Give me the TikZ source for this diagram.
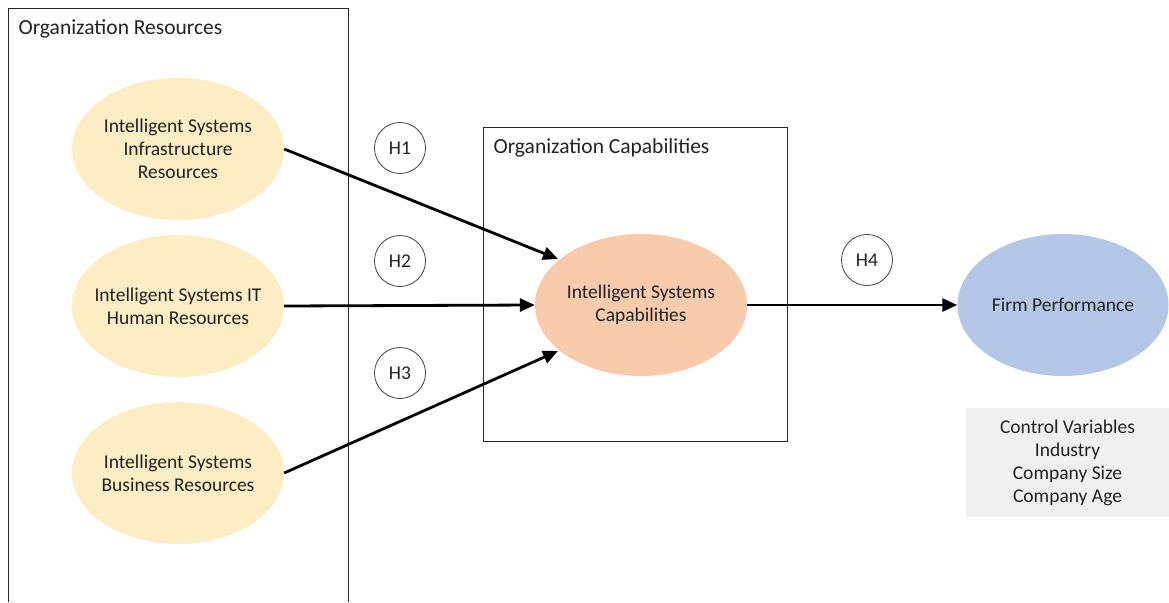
\documentclass[tikz,border=0pt]{standalone}
\usepackage{fontspec}
\setmainfont{Carlito}
\usetikzlibrary{shapes.geometric,arrows.meta}
\definecolor{resy}{HTML}{FDEDC4}
\definecolor{capo}{HTML}{F8CBAD}
\definecolor{perfb}{HTML}{B4C7E7}
\definecolor{ctrlg}{HTML}{F0F0F0}
\definecolor{txt}{HTML}{222222}
\begin{document}
\begin{tikzpicture}[x=1pt,y=-1pt,
  every node/.style={text=txt,font=\fontsize{19.5}{23}\selectfont},
  ell/.style={ellipse,minimum width=212pt,minimum height=142pt,inner xsep=-14pt,inner ysep=0pt,align=center},
  hyp/.style={circle,draw=black!75,line width=0.8pt,minimum size=51pt,inner sep=0pt},
  frame/.style={draw=black!85,line width=0.9pt},
  titletext/.style={anchor=west,font=\fontsize{21.5}{25}\selectfont},
  link/.style={line width=2.8pt,-{Triangle[length=15pt,width=13pt]}}]
\useasboundingbox (0,0) rectangle (1169,602);
% frames
\draw[frame] (8,602) -- (8,8) -- (348,8) -- (348,602);
\node[titletext] (ortitle) at (15,29) {Organization Resources};
\draw[frame] (483,127) rectangle (787,441);
\node[titletext] (octitle) at (490,148) {Organization Capabilities};
% ellipses
\node[ell,fill=resy] (infra) at (178,149) {Intelligent Systems\\Infrastructure\\Resources};
\node[ell,fill=resy] (human) at (178,306) {Intelligent Systems IT\\Human Resources};
\node[ell,fill=resy] (bus) at (178,473) {Intelligent Systems\\Business Resources};
\node[ell,fill=capo] (cap) at (641,305) {Intelligent Systems\\Capabilities};
\node[ell,fill=perfb,minimum width=211pt] (perf) at (1063,305) {Firm Performance};
% control variables
\node[fill=ctrlg,minimum width=203pt,minimum height=109pt,align=center,inner sep=0pt] (ctrl) at (1067.5,462.5) {Control Variables\\Industry\\Company Size\\Company Age};
% hypotheses
\node[hyp] (h1) at (400,148) {H1};
\node[hyp] (h2) at (400,261) {H2};
\node[hyp] (h3) at (400,373) {H3};
\node[hyp] (h4) at (867,260) {H4};
% arrows
\coordinate (capin1) at (558,259);
\coordinate (capin3) at (558,351);
\draw[link] (infra.east) -- (capin1);
\draw[link] (human.east) -- (cap.west);
\draw[link] (bus.east) -- (capin3);
\draw[link] (cap.east) -- (perf.west);
\end{tikzpicture}
\end{document}
